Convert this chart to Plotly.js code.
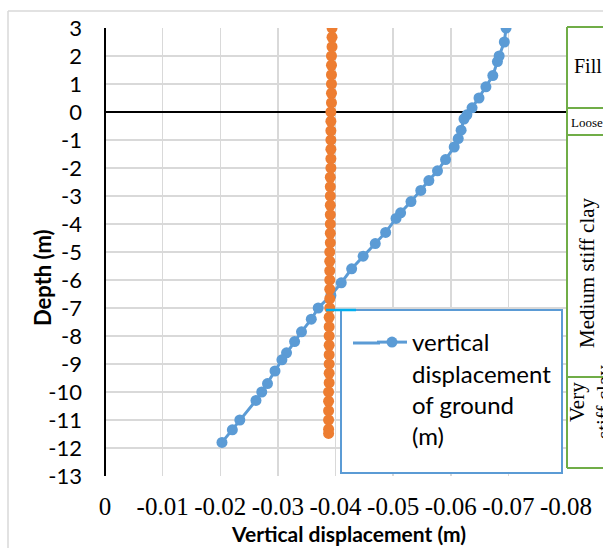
<!DOCTYPE html>
<html>
<head>
<meta charset="utf-8">
<script src="https://cdn.plot.ly/plotly-3.0.1.min.js"></script>
<style>html,body{margin:0;padding:0;background:#fff;}#chart{width:603px;height:548px;}</style>
</head>
<body>
<div id="chart"></div>
<script>
// Series 1: vertical displacement of ground (m) vs depth (m)
const groundDepth = [3.0, 2.5, 2.0, 1.8, 1.3, 0.9, 0.5, 0.15, -0.1, -0.25, -0.65, -0.95, -1.25, -1.7, -2.1, -2.45, -2.8, -3.2, -3.6, -3.8, -4.3, -4.7, -5.15, -5.6, -6.1, -6.55, -7.0, -7.4, -7.85, -8.2, -8.6, -8.85, -9.25, -9.7, -10.0, -10.3, -11.0, -11.35, -11.8];
const groundDisp = [-0.0696, -0.0693, -0.0684, -0.0681, -0.0673, -0.0661, -0.0649, -0.0637, -0.0628, -0.0623, -0.0618, -0.0613, -0.0606, -0.0591, -0.0577, -0.0562, -0.0548, -0.0531, -0.0513, -0.0505, -0.0487, -0.0469, -0.0448, -0.0428, -0.0410, -0.0392, -0.0370, -0.0358, -0.0341, -0.0329, -0.0315, -0.0307, -0.0295, -0.0282, -0.0272, -0.0262, -0.0234, -0.0221, -0.0203];

// Series 2 (orange, not in legend)
const series2Depth = [3.0, 2.67, 2.33, 2.0, 1.67, 1.33, 1.0, 0.67, 0.33, 0.0, -0.33, -0.67, -1.0, -1.33, -1.67, -2.0, -2.33, -2.67, -3.0, -3.33, -3.67, -4.0, -4.33, -4.67, -5.0, -5.33, -5.67, -6.0, -6.33, -6.67, -7.0, -7.33, -7.67, -8.0, -8.33, -8.67, -9.0, -9.33, -9.67, -10.0, -10.33, -10.67, -11.0, -11.33, -11.48];
const series2Disp = [-0.0394, -0.0394, -0.0394, -0.0393, -0.0393, -0.0393, -0.0393, -0.0393, -0.0393, -0.0392, -0.0392, -0.0392, -0.0392, -0.0392, -0.0392, -0.0392, -0.0391, -0.0391, -0.0391, -0.0391, -0.0391, -0.0391, -0.0391, -0.0391, -0.0390, -0.0390, -0.0390, -0.0390, -0.0390, -0.0390, -0.0390, -0.0389, -0.0389, -0.0389, -0.0389, -0.0389, -0.0389, -0.0389, -0.0389, -0.0388, -0.0388, -0.0388, -0.0388, -0.0388, -0.0388];

const xTickVals = [0, -0.01, -0.02, -0.03, -0.04, -0.05, -0.06, -0.07, -0.08];
const xTickText = ['0', '-0.01', '-0.02', '-0.03', '-0.04', '-0.05', '-0.06', '-0.07', '-0.08'];
const yTickVals = [3, 2, 1, 0, -1, -2, -3, -4, -5, -6, -7, -8, -9, -10, -11, -12, -13];
const yTickText = ['3', '2', '1', '0', '-1', '-2', '-3', '-4', '-5', '-6', '-7', '-8', '-9', '-10', '-11', '-12', '-13'];

const legendName = 'vertical<br>displacement<br>of ground<br>(m)';
const xTitle = 'Vertical displacement (m)';
const yTitle = 'Depth (m)';
const layerNames = ['Fill', 'Loose', 'Medium stiff clay', 'Very<br>stiff clay'];

// pixel -> paper helpers (plot area: x 105..566, y 28..476)
const W = 603, H = 548, L = 105, R = 37, T = 28, B = 72;
const pw = W - L - R, ph = H - T - B;
const px = v => (v - L) / pw;
const py = v => (H - B - v) / ph;

const BLUE = '#5B9BD5', ORANGE = '#ED7D31', GREEN = '#70AD47';

const traces = [
  {
    x: groundDisp, y: groundDepth, type: 'scatter', mode: 'lines+markers',
    name: legendName,
    line: {color: BLUE, width: 3}, marker: {color: BLUE, size: 11}
  },
  {
    x: series2Disp, y: series2Depth, type: 'scatter', mode: 'lines+markers',
    line: {color: ORANGE, width: 3}, marker: {color: ORANGE, size: 11},
    showlegend: false, hoverinfo: 'skip'
  }
];

const greenLine = (x0, y0, x1, y1) => ({type: 'line', xref: 'paper', yref: 'paper', x0: px(x0), y0: py(y0), x1: px(x1), y1: py(y1), line: {color: GREEN, width: 2}, layer: 'above'});

const shapes = [
  // chart area border
  {type: 'line', xref: 'paper', yref: 'paper', x0: px(8), y0: py(11), x1: px(8), y1: py(560), line: {color: '#D9D9D9', width: 1.5}, layer: 'below'},
  {type: 'line', xref: 'paper', yref: 'paper', x0: px(8), y0: py(11), x1: px(620), y1: py(11), line: {color: '#D9D9D9', width: 1.5}, layer: 'below'},
  // legend box
  {type: 'rect', xref: 'paper', yref: 'paper', x0: px(341), y0: py(310), x1: px(562), y1: py(473), fillcolor: '#FFFFFF', line: {color: BLUE, width: 2}, layer: 'above'},
  // legend sample line extension (longer sample as in the reference)
  {type: 'line', xref: 'paper', yref: 'paper', x0: px(353), y0: py(343), x1: px(380), y1: py(343), line: {color: BLUE, width: 3}, layer: 'above'},
  // small cyan connector
  {type: 'line', xref: 'paper', yref: 'paper', x0: px(326), y0: py(310), x1: px(356), y1: py(310), line: {color: '#00B0F0', width: 2.5}, layer: 'above'},
  // soil column
  {type: 'rect', xref: 'paper', yref: 'paper', x0: px(567), y0: py(27), x1: px(640), y1: py(468), fillcolor: '#FFFFFF', line: {width: 0}, layer: 'above'},
  greenLine(567, 27, 567, 468),
  greenLine(567, 27, 640, 27),
  greenLine(567, 108, 640, 108),
  greenLine(567, 135, 640, 135),
  greenLine(567, 377, 640, 377),
  greenLine(567, 468, 640, 468)
];

const serif = 'Liberation Serif, Times New Roman, serif';
const sans = 'Lato, Carlito, Calibri, sans-serif';

const annotations = [
  {text: yTitle, xref: 'paper', yref: 'paper', x: px(42), y: py(278), showarrow: false, textangle: -90, font: {family: sans, size: 22, color: '#000', weight: 'bold'}, xanchor: 'center', yanchor: 'middle'},
  {text: xTitle, xref: 'paper', yref: 'paper', x: px(348), y: py(533), showarrow: false, font: {family: sans, size: 21, color: '#000', weight: 'bold'}, xanchor: 'center', yanchor: 'middle'},
  {text: layerNames[0], xref: 'paper', yref: 'paper', x: px(572), y: py(66), showarrow: false, font: {family: serif, size: 20, color: '#000'}, xanchor: 'left', yanchor: 'middle'},
  {text: layerNames[1], xref: 'paper', yref: 'paper', x: px(569), y: py(122), showarrow: false, font: {family: serif, size: 13, color: '#000'}, xanchor: 'left', yanchor: 'middle'},
  {text: layerNames[2], xref: 'paper', yref: 'paper', x: px(587), y: py(273), showarrow: false, textangle: -90, font: {family: serif, size: 21, color: '#000'}, xanchor: 'center', yanchor: 'middle'},
  {text: layerNames[3], xref: 'paper', yref: 'paper', x: px(590), y: py(402), showarrow: false, textangle: -90, font: {family: serif, size: 21, color: '#000'}, xanchor: 'center', yanchor: 'middle'}
];

const layout = {
  width: W, height: H,
  margin: {l: L, r: R, t: T, b: B, pad: 0},
  paper_bgcolor: '#FFFFFF', plot_bgcolor: '#FFFFFF',
  showlegend: true,
  legend: {
    x: px(372), y: py(320), xanchor: 'left', yanchor: 'top',
    bgcolor: 'rgba(0,0,0,0)', borderwidth: 0, valign: 'top',
    font: {family: sans, size: 24, color: '#000'}
  },
  xaxis: {
    range: [0, -0.08], tickvals: xTickVals, ticktext: xTickText,
    showgrid: true, gridcolor: '#D9D9D9', gridwidth: 1.5,
    zeroline: true, zerolinecolor: '#000', zerolinewidth: 1.5,
    showline: false, ticks: '', ticklabelstandoff: 13,
    tickfont: {family: serif, size: 25, color: '#000'}
  },
  yaxis: {
    range: [-13, 3], tickvals: yTickVals, ticktext: yTickText,
    showgrid: true, gridcolor: '#D9D9D9', gridwidth: 1.5,
    zeroline: true, zerolinecolor: '#000', zerolinewidth: 1.5,
    showline: false, ticks: '', ticklabelstandoff: 22,
    tickfont: {family: sans, size: 22, color: '#000'}
  },
  shapes: shapes,
  annotations: annotations
};

Plotly.newPlot('chart', traces, layout, {displayModeBar: false, staticPlot: true});
</script>
</body>
</html>
